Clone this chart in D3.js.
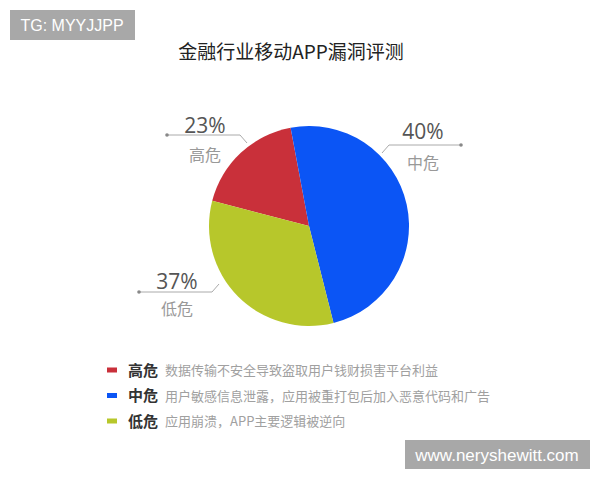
<!DOCTYPE html>
<html><head><meta charset="utf-8">
<script src="https://cdn.jsdelivr.net/npm/d3@7"></script>
<style>body{margin:0;background:#fff}svg{display:block}</style>
</head><body>
<svg id="c" width="600" height="480"></svg>
<script>
const categories = ["高危", "中危", "低危"];
const sliceValues = [18, 49, 33];
const percentLabels = ["23%", "40%", "37%"];
const descriptions = [
  "数据传输不安全导致盗取用户钱财损害平台利益",
  "用户敏感信息泄露，应用被重打包后加入恶意代码和广告",
  "应用崩溃，APP主要逻辑被逆向"
];
const colors = ["#c9303a", "#0b55f5", "#b7c72b"];
const title = "金融行业移动APP漏洞评测";

const svg = d3.select("#c");
const font = "'Noto Sans CJK SC','Noto Sans',sans-serif";

// watermarks
svg.append("rect").attr("x",10).attr("y",10).attr("width",125).attr("height",30).attr("fill","#a8a8a8");
svg.append("text").attr("x",72).attr("y",31).attr("text-anchor","middle").attr("fill","#fff")
  .attr("font-family","'Liberation Sans',Arial,sans-serif").attr("font-size",16).text("TG: MYYJJPP");
svg.append("rect").attr("x",405).attr("y",440).attr("width",185).attr("height",29).attr("fill","#a8a8a8");
svg.append("text").attr("x",497).attr("y",461).attr("text-anchor","middle").attr("fill","#fff")
  .attr("font-family","'Liberation Sans',Arial,sans-serif").attr("font-size",17).text("www.nerysheWitt.com".toLowerCase());

svg.append("text").attr("x",291).attr("y",59).attr("text-anchor","middle").attr("fill","#222")
  .attr("font-family",font).attr("font-size",19).text(title);

const cx = 309, cy = 226, r = 100;
const start = -75.4 * Math.PI / 180;
const pie = d3.pie().sort(null).startAngle(start).endAngle(start + 2*Math.PI);
const arc = d3.arc().innerRadius(0).outerRadius(r);
const g = svg.append("g").attr("transform", `translate(${cx},${cy})`);
g.selectAll("path").data(pie(sliceValues)).join("path")
  .attr("d", arc).attr("fill", (d,i) => colors[i]);

// callouts
const callouts = [
  {pts:[[167,135],[240,135],[247,143]], tx:205, ty:133, lx:205, ly:161},
  {pts:[[382,153],[389,145],[461,145]], tx:423, ty:139, lx:423, ly:169},
  {pts:[[139,292],[212,292],[219,284]], tx:177, ty:289, lx:177, ly:315}
];
const line = d3.line();
callouts.forEach((c,i) => {
  svg.append("path").attr("d", line(c.pts)).attr("fill","none").attr("stroke","#aaa").attr("stroke-width",1);
  const dot = (i===1) ? c.pts[2] : c.pts[0];
  svg.append("circle").attr("cx",dot[0]).attr("cy",dot[1]).attr("r",1.8).attr("fill","#888");
  svg.append("text").attr("x",c.tx).attr("y",c.ty).attr("text-anchor","middle").attr("fill","#555")
    .attr("font-family","'Open Sans','Noto Sans',sans-serif").attr("font-size",21).text(percentLabels[i]);
  svg.append("text").attr("x",c.lx).attr("y",c.ly).attr("text-anchor","middle").attr("fill","#999")
    .attr("font-family",font).attr("font-size",16).text(categories[i]);
});

// legend
const ly = d3.scalePoint().domain(categories).range([370, 421]);
const leg = svg.selectAll("g.leg").data(categories).join("g").attr("class","leg")
  .attr("transform", d => `translate(0,${ly(d)})`);
leg.append("rect").attr("x",107).attr("y",-2.5).attr("width",10).attr("height",5).attr("fill",(d,i)=>colors[i]);
leg.append("text").attr("x",128).attr("y",5.5).attr("fill","#333").attr("font-weight","bold")
  .attr("font-family",font).attr("font-size",15).text(d=>d);
leg.append("text").attr("x",165).attr("y",5).attr("fill","#a0a0a0")
  .attr("font-family",font).attr("font-size",13).text((d,i)=>descriptions[i]);
</script>
</body></html>
